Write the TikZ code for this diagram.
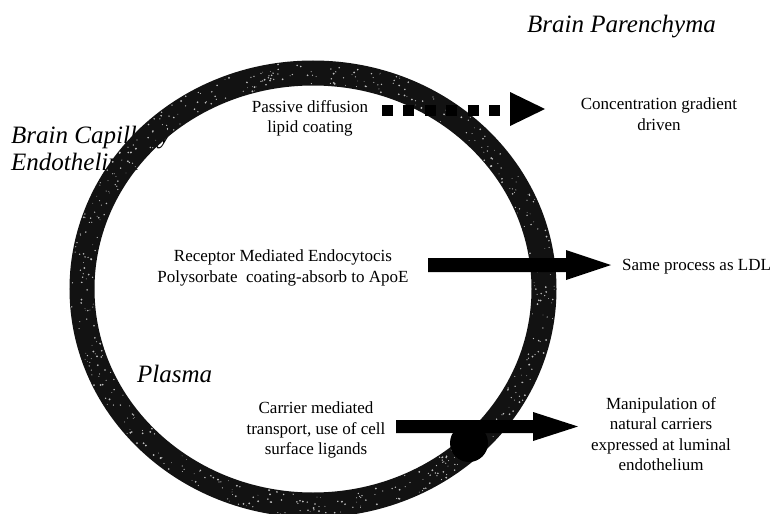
\documentclass[tikz,border=0pt]{standalone}
\usepackage{fontspec}
\setmainfont{Liberation Serif}
\definecolor{ringgray}{gray}{0.07}
\definecolor{speck}{gray}{0.75}
\begin{document}
\begin{tikzpicture}[x=1pt,y=-1pt,
  body/.style={inner sep=0pt, font=\fontsize{17}{20.5}\selectfont, align=center},
  head/.style={inner sep=0pt, font=\fontsize{25}{27}\selectfont\itshape, align=left},
  ring/.style={line width=25pt, draw=ringgray},
  blockarrow/.style={fill=black},
  dotshaft/.style={line width=11pt, draw=black, dash pattern=on 11pt off 10.4pt}]
\useasboundingbox (0,0) rectangle (774,514);
\fill[white] (0,0) rectangle (774,514);

% headings (the ring passes over the first one)
\node[head, anchor=north west] (bce) at (11,126) {Brain Capillary\\Endothelium};
\node[head, anchor=north west] (bp) at (527,15) {Brain Parenchyma};
\node[head, anchor=north west] (plasma) at (137,365) {Plasma};

% endothelium ring
\draw[ring] (313,289) ellipse [x radius=231pt, y radius=216pt];
\pgfmathsetseed{7}
\foreach \i in {1,...,560}{
  \pgfmathsetmacro{\angA}{rnd*360}
  \pgfmathsetmacro{\offA}{(rnd-0.5)*22}
  \pgfmathsetmacro{\radA}{0.35+rnd*0.7}
  \fill[speck] ({313+(231+\offA)*cos(\angA)},{289+(216+\offA)*sin(\angA)}) circle[radius=\radA pt];
}

% passive diffusion: dotted arrow
\draw[dotshaft] (382,110) -- (500,110);
\fill[blockarrow] (510,92) -- (545,109) -- (510,126) -- cycle;

% receptor mediated: block arrow
\fill[blockarrow] (428,258) -- (566,258) -- (566,250) -- (611,265) -- (566,280) -- (566,272) -- (428,272) -- cycle;

% carrier mediated: block arrow with carrier
\fill[blockarrow] (396,420) -- (533,420) -- (533,412) -- (578,426.5) -- (533,441) -- (533,433) -- (396,433) -- cycle;
\fill[black] (469,443) circle[radius=19pt];

% labels
\node[body, anchor=north] (passive) at (310,100) {Passive diffusion\\lipid coating};
\node[body, anchor=north] (conc) at (659,98) {Concentration gradient\\driven};
\node[body, anchor=north] (rme) at (283,250) {Receptor Mediated Endocytocis\\Polysorbate\ \ coating-absorb to ApoE};
\node[body, anchor=north west] (ldl) at (622,259) {Same process as LDL};
\node[body, anchor=north] (cmt) at (316,402) {Carrier mediated\\transport, use of cell\\surface ligands};
\node[body, anchor=north] (manip) at (661,397) {Manipulation of\\natural carriers\\expressed at luminal\\endothelium};
\end{tikzpicture}
\end{document}
